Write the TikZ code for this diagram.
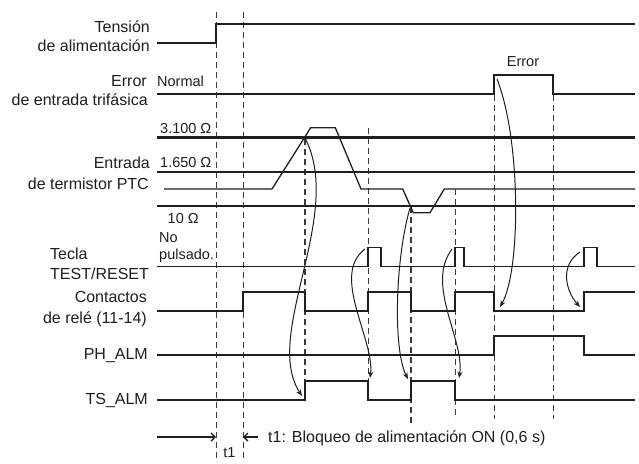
\documentclass[tikz,border=0pt]{standalone}
\usepackage{fontspec}
\setmainfont{Liberation Sans}
\usetikzlibrary{arrows.meta}
\definecolor{ink}{HTML}{1E1E1E}
\definecolor{guidec}{HTML}{3A3A3A}
\begin{document}
\begin{tikzpicture}[x=1pt,y=-1pt,
  sig/.style={line width=2.1pt, draw=ink, line join=miter},
  tsig/.style={line width=1.6pt, draw=ink, line join=miter},
  ptcsig/.style={line width=1.3pt, draw=ink, line join=miter},
  guide/.style={line width=1pt, draw=guidec, dash pattern=on 6pt off 4pt},
  guideb/.style={line width=1.3pt, draw=guidec, dash pattern=on 6pt off 4pt},
  cause/.style={line width=1pt, draw=ink, -{Stealth[length=6.5pt,width=5pt]}},
  tarrow/.style={line width=1.3pt, draw=ink, -{Straight Barb[length=4pt,width=8pt]}},
  lbl/.style={inner sep=0pt, text=ink, font=\fontsize{16}{20}\selectfont},
  slbl/.style={inner sep=0pt, text=ink, font=\fontsize{14.5}{18}\selectfont},
]
\useasboundingbox (0,0) rectangle (639,463);

% guide lines
\draw[guide] (216,12) -- (216,462);
\draw[guide] (243,12) -- (243,462);
\draw[guideb] (305,139) -- (305,381);
\draw[guide] (368,128) -- (368,381);
\draw[guideb] (411,207) -- (411,425);
\draw[guide] (455,189) -- (455,419);
\draw[guide] (494,95) -- (494,419);
\draw[guide] (553,95) -- (553,419);

% signals
\draw[sig] (157,43.3) -- (216,43.3) -- (216,24.3) -- (635,24.3);
\draw[sig] (157,94) -- (494,94) -- (494,75) -- (553,75) -- (553,94) -- (635,94);
\draw[sig] (157,137.5) -- (635,137.5);
\draw[sig] (157,172.3) -- (635,172.3);
\draw[sig] (157,205.7) -- (635,205.7);
\draw[ptcsig] (164,189) -- (272,189) -- (310.7,127.7) -- (335.3,127.7) -- (361,189)
  -- (402.7,189) -- (413.3,212.7) -- (430,212.7) -- (444.3,189) -- (635,189);
\draw[tsig] (157,266.3) -- (367.7,266.3) -- (367.7,247.3) -- (381,247.3) -- (381,266.3)
  -- (454.7,266.3) -- (454.7,247.3) -- (464,247.3) -- (464,266.3)
  -- (583.7,266.3) -- (583.7,247.3) -- (596.7,247.3) -- (596.7,266.3) -- (635,266.3);
\draw[sig] (157,311.3) -- (243,311.3) -- (243,292.3) -- (305,292.3) -- (305,311.3)
  -- (368,311.3) -- (368,292.3) -- (411,292.3) -- (411,311.3) -- (455,311.3)
  -- (455,292.3) -- (494,292.3) -- (494,311.3) -- (584,311.3) -- (584,292.3) -- (635,292.3);
\draw[sig] (157,355.3) -- (494,355.3) -- (494,336.3) -- (584,336.3) -- (584,355.3) -- (635,355.3);
\draw[sig] (157,399.7) -- (305,399.7) -- (305,380.7) -- (368,380.7) -- (368,399.7)
  -- (411,399.7) -- (411,380.7) -- (455,380.7) -- (455,399.7) -- (635,399.7);

% cause arrows
\coordinate (c1s) at (305,138);   \coordinate (c1e) at (302,396);
\coordinate (c2s) at (365,249);   \coordinate (c2e) at (370,378);
\coordinate (c3s) at (410,208);   \coordinate (c3e) at (408,379);
\coordinate (c4s) at (452,249);   \coordinate (c4e) at (459,378);
\coordinate (c5s) at (497,79);    \coordinate (c5e) at (500,307);
\coordinate (c6s) at (580,252);   \coordinate (c6e) at (580,307);
\draw[cause] (c1s) .. controls (345,215) and (262,335) .. (c1e);
\draw[cause] (c2s) .. controls (330,275) and (375,340) .. (c2e);
\draw[cause] (c3s) .. controls (395,260) and (393,350) .. (c3e);
\draw[cause] (c4s) .. controls (425,285) and (465,340) .. (c4e);
\draw[cause] (c5s) .. controls (521,140) and (521,270) .. (c5e);
\draw[cause] (c6s) .. controls (560,265) and (565,290) .. (c6e);

% t1 row
\coordinate (t1a) at (157,437); \coordinate (t1b) at (216,437);
\coordinate (t1c) at (258,437); \coordinate (t1d) at (243,437);
\draw[tarrow] (t1a) -- (t1b);
\draw[tarrow] (t1c) -- (t1d);
\node[lbl, anchor=base west] (t1note) at (268,442) {t1: Bloqueo de alimentación ON (0,6 s)};
\node[slbl, anchor=base] (t1) at (229.5,457.5) {t1};

% row labels
\node[lbl, anchor=base east] (tension1) at (150,32.3) {Tensión};
\node[lbl, anchor=base east] (tension2) at (150,51.7) {de alimentación};
\node[lbl, anchor=base east] (err1) at (147,86) {Error};
\node[lbl, anchor=base east] (err2) at (148,105.3) {de entrada trifásica};
\node[lbl, anchor=base east] (ptc1) at (150,168.3) {Entrada};
\node[lbl, anchor=base east] (ptc2) at (149,189) {de termistor PTC};
\node[lbl, anchor=base west] (tst1) at (50,259.3) {Tecla};
\node[lbl, anchor=base west] (tst2) at (50,279.3) {TEST/RESET};
\node[lbl, anchor=base east] (rel1) at (147,302.7) {Contactos};
\node[lbl, anchor=base east] (rel2) at (147,323.3) {de relé (11-14)};
\node[lbl, anchor=base east] (ph) at (148,359.3) {PH\_ALM};
\node[lbl, anchor=base east] (ts) at (148,404.3) {TS\_ALM};

% small labels
\node[slbl, anchor=base west] (normal) at (157,86) {Normal};
\node[slbl, anchor=base west] (r3100) at (160,133) {3.100 Ω};
\node[slbl, anchor=base west] (r1650) at (160,167) {1.650 Ω};
\node[slbl, anchor=base west] (r10) at (167.5,223) {10 Ω};
\node[slbl, anchor=base west] (no) at (159,242) {No};
\node[slbl, anchor=base west] (puls) at (159,259.5) {pulsado.};
\node[slbl, anchor=base] (errtop) at (523,66.7) {Error};
\end{tikzpicture}
\end{document}
